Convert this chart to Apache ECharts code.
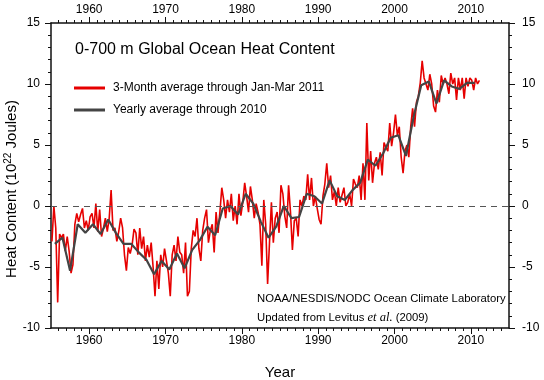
<!DOCTYPE html>
<html><head><meta charset="utf-8">
<script src="https://cdn.jsdelivr.net/npm/echarts@6/dist/echarts.min.js"></script>
<style>html,body{margin:0;padding:0;background:#fff}#c{width:544px;height:380px}</style>
</head><body><div id="c"></div>
<script>
// ---- data ----
const quarterlyStartYear = 1955;
// 3-month averages, Jan-Mar 1955 ... Jan-Mar 2011 (10^22 J)
const quarterly = [
  -2.9, 0.0, -1.8, -7.9,   // 1955
  -2.3, -2.6, -2.3, -3.7,  // 1956
  -2.5, -3.7, -5.5, -4.8,  // 1957
  -1.5, -0.6, -1.3, -0.7,  // 1958
  -0.2, -1.8, -1.2, -2.0,  // 1959
  -0.9, -0.6, -1.8, 0.2,   // 1960
  -2.1, -0.3, -2.5, -1.8,  // 1961
  -1.0, -2.1, -1.0, 1.3,   // 1962
  -2.0, -1.8, -2.9, -2.1,  // 1963
  -1.0, -1.8, -4.0, -5.3,  // 1964
  -3.4, -3.9, -3.2, -1.9,  // 1965
  -2.2, -4.0, -1.8, -3.5,  // 1966
  -2.5, -4.5, -3.2, -4.2,  // 1967
  -3.0, -5.0, -7.4, -4.5,  // 1968
  -6.8, -4.0, -5.0, -3.5,  // 1969
  -4.5, -5.5, -7.4, -4.0,  // 1970
  -3.2, -4.5, -2.5, -3.8,  // 1971
  -4.0, -5.5, -3.0, -7.4,  // 1972
  -7.0, -3.5, -2.0, -2.5,  // 1973
  -1.0, -3.5, -4.5, -2.0,  // 1974
  -1.0, -0.3, -3.0, -2.0,  // 1975
  -1.5, -3.8, -0.5, -2.2,  // 1976
  -0.5, 1.5, 0.5, -1.0,    // 1977
  0.5, -0.5, 1.0, -1.2,    // 1978
  0.0, -1.5, 1.0, -0.8,    // 1979
  0.3, 1.9, 0.8, -0.5,     // 1980
  1.6, 0.5, -1.0, 0.2,     // 1981
  -0.5, -1.5, -4.9, 0.5,   // 1982
  -1.5, -6.4, -3.0, 0.3,   // 1983
  -3.0, -1.0, -0.5, -2.2,  // 1984
  1.7, 1.0, -0.8, -1.8,    // 1985
  1.7, -0.5, -3.6, -1.2,   // 1986
  -1.0, -2.5, 0.5, 0.0,    // 1987
  0.8, 0.5, 2.6, 0.5,      // 1988
  2.3, 0.0, 0.8, -0.2,     // 1989
  -1.1, -1.5, 0.8, 1.8,    // 1990
  3.5, 1.5, 2.5, 0.5,      // 1991
  1.2, 0.0, 1.5, 0.3,      // 1992
  0.2, 1.5, 0.0, 0.3,      // 1993
  1.0, 0.0, 2.2, 1.8,      // 1994
  1.5, 2.5, 0.5, 3.5,      // 1995
  0.5, 6.8, 2.1, 4.5,      // 1996
  1.9, 3.5, 4.0, 3.0,      // 1997
  4.4, 2.5, 5.2, 4.8,      // 1998
  4.5, 6.8, 4.9, 6.0,      // 1999
  7.5, 5.8, 6.5, 4.0,      // 2000
  2.7, 4.5, 5.0, 4.0,      // 2001
  6.5, 8.0, 6.5, 8.5,      // 2002
  9.0, 10.1, 11.9, 10.5,   // 2003
  10.5, 9.5, 10.8, 10.0,   // 2004
  8.2, 7.7, 9.5, 8.5,      // 2005
  10.7, 10.0, 10.5, 10.0,  // 2006
  9.2, 10.9, 10.0, 10.5,   // 2007
  8.7, 10.5, 9.5, 10.5,    // 2008
  8.8, 10.5, 9.8, 10.5,    // 2009
  10.3, 9.5, 10.5, 10.0,   // 2010
  10.3                     // 2011 Jan-Mar
];
const yearlyYears = [1955,1956,1957,1958,1959,1960,1961,1962,1963,1964,1965,1966,1967,1968,1969,
  1970,1971,1972,1973,1974,1975,1976,1977,1978,1979,1980,1981,1982,1983,1984,1985,1986,1987,1988,1989,
  1990,1991,1992,1993,1994,1995,1996,1997,1998,1999,2000,2001,2002,2003,2004,2005,2006,2007,2008,2009,2010];
const yearly = [-3.1,-2.6,-5.3,-1.5,-2.2,-1.5,-2.3,-1.1,-2.2,-3.1,-3.1,-3.8,-4.4,-5.6,-4.5,
  -5.2,-3.9,-5.1,-3.6,-2.8,-1.7,-2.4,-0.2,0.0,-0.7,1.0,0.2,-1.3,-2.6,-1.7,0.0,-1.0,-0.9,1.0,0.8,
  0.2,2.1,0.8,0.5,1.3,1.9,3.8,3.3,4.3,5.6,5.8,4.1,7.3,9.9,10.2,8.4,10.3,9.8,9.6,10.1,10.1];
const xMajorTicks = [1960,1970,1980,1990,2000,2010];
const xMinorTicks = [];
for (let y = 1956; y <= 2014; y++) if (y % 10 !== 0) xMinorTicks.push(y);
const seriesNames = ['3-Month average through Jan-Mar 2011', 'Yearly average through 2010'];

// ---- chart ----
const FONT = 'Liberation Sans, Arial, Helvetica, sans-serif';
const chart = echarts.init(document.getElementById('c'), null, {renderer: 'canvas'});

function xAxis(pos, minor) {
  return {
    type: 'value', position: pos, min: 1955, max: 2015, interval: 5,
    axisLine: {show: !minor, onZero: false, lineStyle: {color: '#111', width: 1.5}},
    axisTick: {show: true, inside: false, length: minor ? 3 : 6, customValues: minor ? xMinorTicks : xMajorTicks,
      lineStyle: {color: '#111', width: 1}},
    axisLabel: {show: !minor, customValues: xMajorTicks, margin: pos === 'top' ? 7 : 7,
      fontSize: 12, color: '#000', fontFamily: FONT, formatter: v => String(v)},
    splitLine: {show: false}, minorTick: {show: false}
  };
}
function yAxis(pos) {
  return {
    type: 'value', position: pos, min: -10, max: 15, interval: 5,
    axisLine: {show: true, onZero: false, lineStyle: {color: '#111', width: 1.5}},
    axisTick: {show: true, inside: false, length: 6, lineStyle: {color: '#111', width: 1}},
    minorTick: {show: true, splitNumber: 5, length: 3, lineStyle: {color: '#111', width: 1}},
    axisLabel: {margin: pos === 'left' ? 11 : 13, fontSize: 12, color: '#000', fontFamily: FONT,
      formatter: v => String(v)},
    splitLine: {show: false}, minorSplitLine: {show: false}
  };
}
const xAxes = [xAxis('bottom', false), xAxis('bottom', true), xAxis('top', false), xAxis('top', true)];
const yAxes = [yAxis('left'), yAxis('right')];

chart.setOption({
  animation: false,
  backgroundColor: '#fff',
  grid: {left: 51, right: 35, top: 23, bottom: 52, containLabel: false, outerBoundsMode: 'none'},
  title: {text: '0-700 m Global Ocean Heat Content', left: 70, top: 37,
    textStyle: {fontSize: 16, fontWeight: 'normal', color: '#000', fontFamily: FONT}},
  legend: {data: seriesNames, orient: 'vertical', left: 69, top: 77, itemWidth: 31, itemHeight: 3,
    icon: 'rect', itemGap: 10, selectedMode: false,
    textStyle: {fontSize: 12, color: '#000', fontFamily: FONT, padding: [0, 0, 0, 3]}},
  xAxis: xAxes,
  yAxis: yAxes,
  graphic: [
    {type: 'text', x: 280, y: 373, style: {text: 'Year', font: '15px ' + FONT, fill: '#000',
      align: 'center', verticalAlign: 'middle'}},
    {type: 'text', x: 12, y: 189, rotation: Math.PI / 2, style: {
      text: '{n|Heat Content (10}{s|22}{n| Joules)}', align: 'center', verticalAlign: 'middle',
      rich: {n: {fontSize: 15, fontFamily: FONT, fill: '#000'},
             s: {fontSize: 10, fontFamily: FONT, fill: '#000', padding: [0, 0, 8, 0]}}}},
    {type: 'text', left: 257, top: 293, style: {text: 'NOAA/NESDIS/NODC Ocean Climate Laboratory',
      font: '11.3px ' + FONT, fill: '#000'}},
    {type: 'text', left: 257, top: 311, style: {
      text: '{n|Updated from Levitus }{i|et al.}{n| (2009)}',
      rich: {n: {fontSize: 11.3, fontFamily: FONT, fill: '#000'},
             i: {fontSize: 12.5, fontStyle: 'italic', fontFamily: 'Liberation Serif, Times New Roman, serif', fill: '#000'}}}}
  ],
  series: [
    {name: seriesNames[0], type: 'line', xAxisIndex: 0, yAxisIndex: 0, symbol: 'none',
      data: quarterly.map((v, i) => [quarterlyStartYear + (i + 0.5) / 4, v]),
      lineStyle: {color: '#e60000', width: 1.6}, itemStyle: {color: '#e60000'},
      markLine: {silent: true, symbol: ['none', 'none'], label: {show: false},
        lineStyle: {color: '#555', width: 1, type: [6, 5]}, data: [{yAxis: 0}]}},
    {name: seriesNames[1], type: 'line', xAxisIndex: 0, yAxisIndex: 0, symbol: 'none',
      data: yearly.map((v, i) => [yearlyYears[i] + 0.5, v]),
      lineStyle: {color: '#444', width: 2.2}, itemStyle: {color: '#444'}}
  ]
});
</script></body></html>
